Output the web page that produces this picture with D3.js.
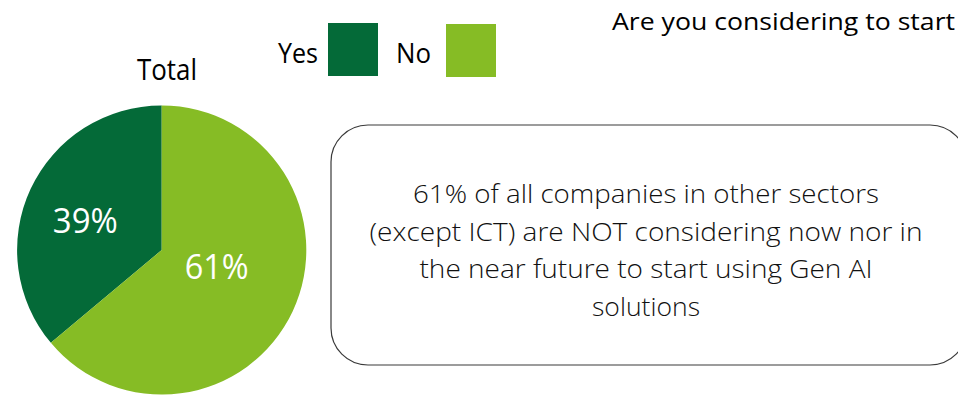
<!DOCTYPE html>
<html>
<head>
<meta charset="utf-8">
<script src="https://cdn.jsdelivr.net/npm/d3@7"></script>
<style>
  html, body { margin: 0; padding: 0; background: #fff; overflow: hidden; }
  svg { display: block; }
  text { font-family: "Open Sans", "Noto Sans", Lato, sans-serif; fill: #000; }
</style>
</head>
<body>
<div class="container"></div>
<script>
// data
const categories = ["Yes", "No"];
// slice shares as drawn (boundary sits at ~230deg clockwise from 12 o'clock)
const shares = [36.1, 63.9];
// data labels as printed on the slices
const sliceLabels = ["39%", "61%"];
const colors = ["#046A38", "#86BC25"];
const pieTitle = "Total";
const chartTitle = "Are you considering to start";
const noteLines = [
  "61% of all companies in other sectors",
  "(except ICT) are NOT considering now nor in",
  "the near future to start using Gen AI",
  "solutions"
];

const width = 958, height = 396;

let svg = d3.select(".container").append("svg")
  .attr("width", width)
  .attr("height", height)
  .style("background", "#fff");

// squeeze/stretch a text to the width it has in the reference
function fit(sel, w) {
  sel.attr("textLength", w).attr("lengthAdjust", "spacingAndGlyphs");
}

// title, runs off the right edge like in the reference
svg.append("text")
  .attr("x", 612).attr("y", 30)
  .style("font-size", "24px")
  .text(chartTitle)
  .call(fit, 343);

// pie
const cx = 161.7, cy = 250, R = 144.6;
const total = d3.sum(shares);
const pie = d3.pie().sort(null).value(d => d)
  .startAngle(-2 * Math.PI * shares[0] / total)
  .endAngle(2 * Math.PI - 2 * Math.PI * shares[0] / total);
const arcs = pie(shares);
const arc = d3.arc().innerRadius(0).outerRadius(R);

let g = svg.append("g").attr("transform", `translate(${cx}, ${cy})`);

g.selectAll("path.slice")
  .data(arcs)
  .enter()
  .append("path")
  .attr("class", "slice")
  .attr("fill", (d, i) => colors[i])
  .attr("d", arc);

// label radius as a share of R, per slice, plus a small nudge (excel puts them unevenly)
const labelR = [0.575, 0.42];
const labelNudge = [[-1, 6], [0, -9]];
const labelW = [65, 64];
const labelArc = i => d3.arc().innerRadius(0).outerRadius(2 * R * labelR[i]);
g.selectAll("text.lbl")
  .data(arcs)
  .enter()
  .append("text")
  .attr("class", "lbl")
  .attr("text-anchor", "middle")
  .attr("x", (d, i) => labelArc(i).centroid(d)[0] + labelNudge[i][0])
  .attr("y", (d, i) => labelArc(i).centroid(d)[1] + labelNudge[i][1] + 12)
  .style("font-size", "34px")
  .style("fill", "#fff")
  .text((d, i) => sliceLabels[i])
  .each(function(d, i) { d3.select(this).call(fit, labelW[i]); });

svg.append("text")
  .attr("x", 167).attr("y", 80)
  .attr("text-anchor", "middle")
  .style("font-size", "30px")
  .text(pieTitle)
  .call(fit, 60);

// legend
const legX = d3.scaleOrdinal().domain(categories).range([278, 396]);
const legTextW = [40, 35];
let leg = svg.selectAll("g.leg")
  .data(categories)
  .enter()
  .append("g")
  .attr("class", "leg")
  .attr("transform", d => `translate(${legX(d)}, 0)`);

leg.append("text")
  .attr("x", 0).attr("y", 63)
  .style("font-size", "27px")
  .text(d => d)
  .each(function(d, i) { d3.select(this).call(fit, legTextW[i]); });

leg.append("rect")
  .attr("x", 50).attr("y", (d, i) => 23 + i)
  .attr("width", 50).attr("height", 53)
  .attr("fill", (d, i) => colors[i]);

// note box
svg.append("rect")
  .attr("x", 331).attr("y", 125)
  .attr("width", 636).attr("height", 240)
  .attr("rx", 37).attr("ry", 37)
  .attr("fill", "#fff")
  .attr("stroke", "#3a3a3a")
  .attr("stroke-width", 1.2);

const lineW = [466, 553, 453, 108];
svg.selectAll("text.note")
  .data(noteLines)
  .enter()
  .append("text")
  .attr("class", "note")
  .attr("x", 646)
  .attr("y", (d, i) => 203 + i * 37.5)
  .attr("text-anchor", "middle")
  .style("font-size", "25px")
  .style("font-weight", 300)
  .style("fill", "#111")
  .text(d => d)
  .each(function(d, i) { d3.select(this).call(fit, lineW[i]); });
</script>
</body>
</html>
